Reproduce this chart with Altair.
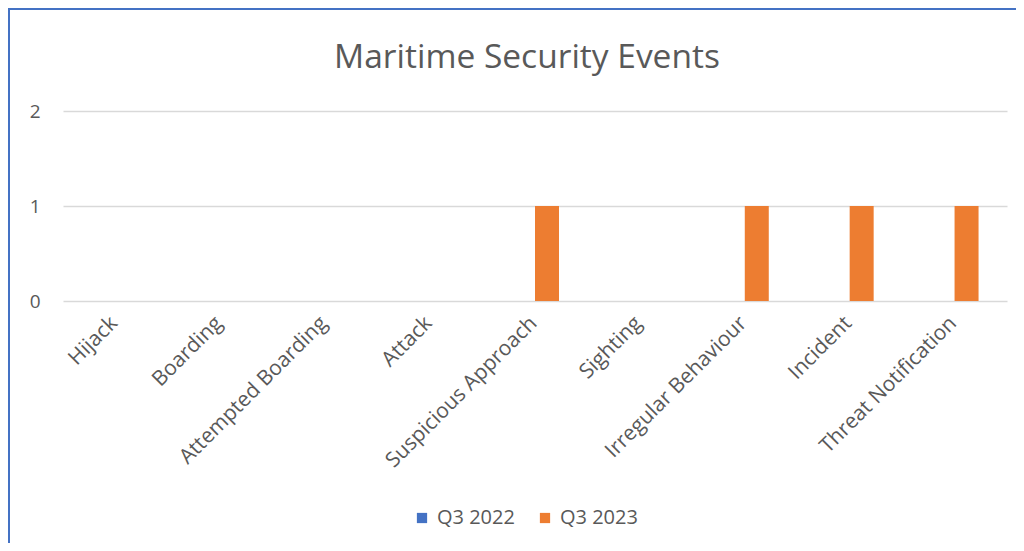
import altair as alt
import pandas as pd

categories = ["Hijack", "Boarding", "Attempted Boarding", "Attack", "Suspicious Approach",
              "Sighting", "Irregular Behaviour", "Incident", "Threat Notification"]
series_names = ["Q3 2022", "Q3 2023"]
q3_2022 = [0, 0, 0, 0, 0, 0, 0, 0, 0]
q3_2023 = [0, 0, 0, 0, 1, 0, 1, 1, 1]
y_ticks = [0, 1, 2]
colors = ["#4472C4", "#ED7D31"]
title_text = "Maritime Security Events"

rows = []
for c, a, b in zip(categories, q3_2022, q3_2023):
    rows.append({"category": c, "series": series_names[0], "value": a})
    rows.append({"category": c, "series": series_names[1], "value": b})
df = pd.DataFrame(rows)

FONT = "Open Sans"
TXT = "#595959"
W, H = 944, 190
pin = 1 - 48 / (W / 9)

bars = alt.Chart(df).mark_bar().encode(
    x=alt.X("category:N", sort=categories,
            scale=alt.Scale(paddingInner=pin, paddingOuter=pin / 2),
            axis=alt.Axis(title=None, labelAngle=-45, labelFontSize=21, labelColor=TXT,
                          labelFont=FONT, domain=False, ticks=False, labelPadding=11,
                          labelOffset=-9,
                          labelAlign="right", labelBaseline="top", labelLimit=400)),
    xOffset=alt.XOffset("series:N", sort=series_names),
    y=alt.Y("value:Q", scale=alt.Scale(domain=[0, 2]),
            axis=alt.Axis(title=None, values=y_ticks, tickCount=10, tickMinStep=0.5,
                          labelFontSize=19, labelColor=TXT, labelFont=FONT, domain=False,
                          ticks=False, labelPadding=23, gridColor="#D9D9D9", gridWidth=1.3,
                          labelOverlap=False, format="d")),
    color=alt.Color("series:N", sort=series_names,
                    scale=alt.Scale(domain=series_names, range=colors),
                    legend=alt.Legend(title=None, orient="none", direction="horizontal",
                                      legendX=349, legendY=397, symbolType="square",
                                      symbolSize=105, symbolStrokeWidth=0,
                                      labelFontSize=20, labelColor=TXT, labelFont=FONT,
                                      columnPadding=20, labelOffset=5)),
)

title = alt.Chart(alt.Data(values=[{"t": title_text}])).mark_text(
    font=FONT, fontSize=33.5, color=TXT, align="center", baseline="alphabetic"
).encode(text="t:N", x=alt.value(W / 2 - 8), y=alt.value(-43))

border_data = alt.Data(values=[{"k": 1}])
left_border = alt.Chart(border_data).mark_rule(color="#4472C4", strokeWidth=2).encode(
    x=alt.value(-54), y=alt.value(-103), y2=alt.value(450))
top_border = alt.Chart(border_data).mark_rule(color="#4472C4", strokeWidth=2).encode(
    x=alt.value(-55), x2=alt.value(960), y=alt.value(-102))

chart = alt.layer(bars, title, left_border, top_border).properties(
    width=W, height=H,
    padding={"left": 55, "top": 103, "right": 9, "bottom": 242},
    autosize=alt.AutoSizeParams(type="none"),
).configure_view(stroke=None)

chart.save("out.html", embed_options={"renderer": "svg", "actions": False})
